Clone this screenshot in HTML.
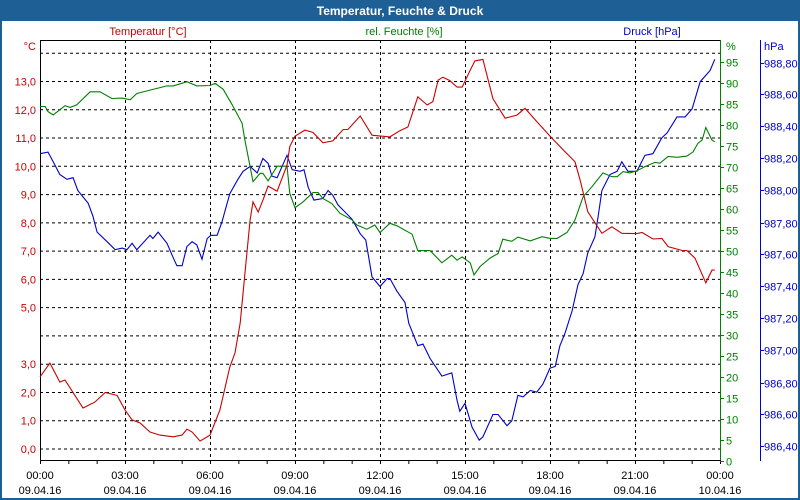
<!DOCTYPE html>
<html><head><meta charset="utf-8"><style>
body{margin:0;background:#fff;}
svg{display:block;font-family:"Liberation Sans",sans-serif;}
</style></head><body>
<svg id="c" width="800" height="500" xmlns="http://www.w3.org/2000/svg">
<rect x="0" y="0" width="800" height="500" fill="#1e5f96"/>
<rect x="2" y="21" width="796" height="477" fill="#fff"/>
<text x="400" y="15" text-anchor="middle" font-size="12" font-weight="bold" fill="#fff">Temperatur, Feuchte &amp; Druck</text>
<text x="148" y="35" text-anchor="middle" font-size="11" fill="#cc0000">Temperatur [°C]</text>
<text x="404" y="35" text-anchor="middle" font-size="11" fill="#008000">rel. Feuchte [%]</text>
<text x="652" y="35" text-anchor="middle" font-size="11" fill="#0000cc">Druck [hPa]</text>
<g id="grid"></g>
<g id="axes"></g>
<g id="series"></g>
</svg>
<script>
const tempTimes=[0,21,42,53,91,116,138,163,180,195,212,233,254,282,301,311,322,339,360,381,402,413,424,434,445,451,462,472,483,502,523,529,540,561,578,599,620,642,652,678,703,741,762,779,800,820,832,843,853,868,883,894,911,921,938,959,985,1010,1027,1052,1080,1108,1133,1144,1160,1190,1211,1232,1264,1275,1298,1317,1330,1360,1370,1387,1410,1423,1429];
const tempValues=[2.55,3.04,2.37,2.44,1.45,1.66,2.0,1.9,1.38,1.03,0.92,0.6,0.49,0.43,0.49,0.7,0.6,0.28,0.49,1.38,2.9,3.4,4.46,6.2,8.1,8.74,8.38,8.8,9.3,9.12,10.04,10.7,11.07,11.28,11.2,10.83,10.9,11.3,11.3,11.78,11.1,11.04,11.26,11.39,12.46,12.17,12.29,13.05,13.15,13.03,12.8,12.8,13.4,13.73,13.78,12.4,11.7,11.81,12.05,11.58,11.07,10.58,10.16,9.5,8.39,7.63,7.86,7.63,7.62,7.66,7.43,7.45,7.16,7.02,7.02,6.75,5.88,6.33,6.33];
const humTimes=[0,11,17,28,53,64,78,106,127,152,174,191,205,233,269,282,311,332,360,371,388,407,428,434,445,451,466,472,483,502,523,529,540,557,578,589,599,618,635,661,671,692,709,720,741,756,788,800,826,851,872,883,894,911,919,932,953,970,980,999,1012,1038,1063,1080,1095,1116,1133,1150,1169,1192,1211,1222,1235,1249,1264,1281,1302,1313,1330,1349,1370,1383,1393,1402,1410,1423,1429];
const humValues=[84.4,84.4,83.2,82.4,84.6,84.2,84.8,87.9,87.9,86.3,86.4,86,87.5,88.3,89.3,89.3,90.3,89.3,89.4,89.9,88.5,84.8,80.4,76.4,70.1,66.5,68.5,68.5,66.7,70.2,70.2,63.7,60.3,61.7,63.9,63.9,62.5,61.3,59,57.4,56.2,55.2,56.2,54.4,56.6,56,54,50.1,50.1,47.2,49,47.8,48.6,47.2,44.3,46.3,48.3,49.4,52.8,52.3,53.3,52.4,53.4,53,53,54.4,57.4,62.9,65.3,68.6,67.7,67.7,68.9,68.6,69.1,70.1,71.1,70.9,72.5,72.3,72.6,73.6,75.6,76.4,79.4,76.4,76];
const presTimes=[0,17,28,42,57,70,80,102,112,121,142,159,174,184,195,205,233,239,250,269,282,290,301,311,322,332,343,354,362,375,385,402,419,430,445,460,472,483,491,502,523,534,551,559,568,580,599,610,620,631,661,678,690,703,720,735,741,756,773,781,800,811,826,851,872,883,889,900,915,930,938,959,970,989,999,1012,1023,1038,1052,1065,1080,1091,1101,1112,1127,1139,1150,1160,1175,1182,1190,1207,1222,1232,1245,1264,1281,1298,1317,1328,1349,1366,1381,1398,1419,1429];
const presValues=[988.23,988.24,988.18,988.10,988.07,988.08,988.0,987.92,987.84,987.74,987.68,987.63,987.64,987.63,987.67,987.63,987.72,987.70,987.74,987.67,987.58,987.53,987.53,987.65,987.68,987.66,987.57,987.70,987.72,987.72,987.80,987.98,988.07,988.12,988.15,988.11,988.20,988.17,988.09,988.08,988.22,988.13,988.12,988.13,988.02,987.94,987.95,988.0,987.97,987.91,987.82,987.73,987.69,987.46,987.40,987.45,987.45,987.37,987.30,987.17,987.03,987.04,986.95,986.84,986.86,986.69,986.62,986.67,986.52,986.44,986.46,986.60,986.60,986.53,986.56,986.72,986.71,986.75,986.74,986.79,986.89,986.90,987.03,987.11,987.25,987.41,987.48,987.61,987.71,987.84,988.0,988.10,988.12,988.18,988.12,988.12,988.22,988.23,988.33,988.36,988.46,988.46,988.51,988.68,988.75,988.82];
const tempTicks=["0,0","1,0","2,0","3,0","","5,0","6,0","7,0","8,0","9,0","10,0","11,0","12,0","13,0"];
const humTicks=[0,5,10,15,20,25,30,35,40,45,50,55,60,65,70,75,80,85,90,95];
const presTicks=["986,40","986,60","986,80","987,00","987,20","987,40","987,60","987,80","988,00","988,20","988,40","988,60","988,80"];
const timeLabels=["00:00","03:00","06:00","09:00","12:00","15:00","18:00","21:00","00:00"];
const dateLabels=["09.04.16","09.04.16","09.04.16","09.04.16","09.04.16","09.04.16","09.04.16","09.04.16","10.04.16"];

const NS="http://www.w3.org/2000/svg";
const L=40,R=720,T=40,B=460;
const xS=m=>L+m*(R-L)/1440;
const yT=v=>449-v*28.27;
const yH=v=>461-v*4.2;
const yP=v=>62.5+(988.8-v)*160;
function mk(tag,attrs,parent){const e=document.createElementNS(NS,tag);for(const k in attrs)e.setAttribute(k,attrs[k]);parent.appendChild(e);return e;}
const grid=document.getElementById('grid'),axes=document.getElementById('axes'),ser=document.getElementById('series');

// horizontal grid (temperature 0..14)
for(let v=0;v<=14;v++){const y=yT(v);
 const g=mk('line',{x1:L,x2:R,y1:y,y2:y,stroke:'#000','stroke-dasharray':'3,3','stroke-width':1},grid);
 
 }
// vertical grid
for(let i=1;i<timeLabels.length-1;i++){const x=xS(i*180)+0.5;
 const g=mk('line',{x1:x,x2:x,y1:T,y2:B,stroke:'#000','stroke-dasharray':'3,3','stroke-width':1},grid);
 
 }
// frame lines
mk('line',{x1:L,x2:R,y1:T+0.5,y2:T+0.5,stroke:'#000'},axes);
mk('line',{x1:L+0.5,x2:L+0.5,y1:T,y2:B+4,stroke:'#000'},axes);
mk('line',{x1:L,x2:R,y1:B+0.5,y2:B+0.5,stroke:'#000'},axes);
mk('line',{x1:R+0.5,x2:R+0.5,y1:T,y2:B+1,stroke:'#008000'},axes);
mk('line',{x1:760.5,x2:760.5,y1:T,y2:B+1,stroke:'#0000cc'},axes);
// x ticks & labels
for(let h=0;h<=24;h++){const x=xS(h*60)+0.5;mk('line',{x1:x,x2:x,y1:B,y2:B+4,stroke:'#000'},axes);}
timeLabels.forEach((t,i)=>{const x=xS(i*180);
 const a=mk('text',{x:x,y:479,'text-anchor':'middle','font-size':11,fill:'#000'},axes);a.textContent=t;
 
 
 const b=mk('text',{x:x,y:494,'text-anchor':'middle','font-size':11,fill:'#000'},axes);b.textContent=dateLabels[i];
 
 });
// left axis
tempTicks.forEach((t,i)=>{if(!t)return;const e=mk('text',{x:36,y:yT(i)+4,'text-anchor':'end','font-size':11,fill:'#cc0000'},axes);e.textContent=t;
 
 });
const u1=mk('text',{x:36,y:50,'text-anchor':'end','font-size':11,fill:'#cc0000'},axes);u1.textContent='°C';


// humidity axis
humTicks.forEach(v=>{const y=Math.round(yH(v))+0.5;mk('line',{x1:R,x2:R+4,y1:y,y2:y,stroke:'#008000'},axes);
 const e=mk('text',{x:726,y:y+4,'font-size':11,fill:'#008000'},axes);e.textContent=v;
 
 });
const u2=mk('text',{x:726,y:50,'font-size':11,fill:'#008000'},axes);u2.textContent='%';


// pressure axis
presTicks.forEach(t=>{const v=parseFloat(t.replace(',','.'));const y=Math.round(yP(v))+0.5;
 mk('line',{x1:760,x2:764,y1:y,y2:y,stroke:'#0000cc'},axes);
 const e=mk('text',{x:764,y:y+4,'font-size':11,fill:'#0000cc'},axes);e.textContent=t;
 
 });
const u3=mk('text',{x:764,y:50,'font-size':11,fill:'#0000cc'},axes);u3.textContent='hPa';


// series
function line(ts,vs,yf,col,name){const d=ts.map((t,i)=>(i?'L':'M')+xS(t).toFixed(1)+','+yf(vs[i]).toFixed(1)).join('');
 const p=mk('path',{d:d,fill:'none',stroke:col,'stroke-width':1.1},ser);
 
 }
line(presTimes,presValues,yP,'#0000cc','pressure-line');
line(humTimes,humValues,yH,'#008000','humidity-line');
line(tempTimes,tempValues,yT,'#cc0000','temperature-line');
</script>
</body></html>
